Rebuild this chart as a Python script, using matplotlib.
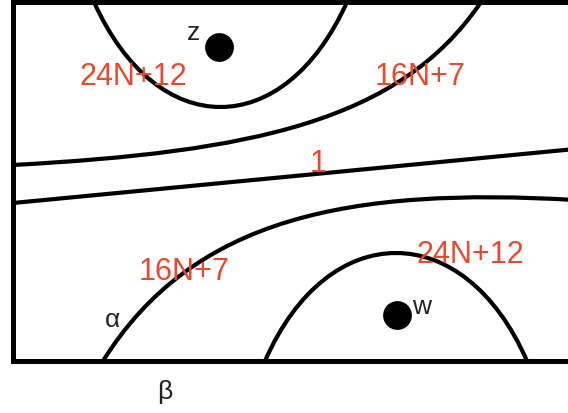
import matplotlib
matplotlib.use("Agg")
import matplotlib.pyplot as plt
from matplotlib.path import Path
from matplotlib.patches import PathPatch

plt.rcParams['font.family'] = ['Liberation Sans', 'DejaVu Sans']

# Diagram geometry (pixel coordinates of the reference picture)
box_left = 13
box_top = 3
box_bottom = 362
box_right = 575

# Curves as cubic Bezier control points: (x0,y0),(x1,y1),(x2,y2),(x3,y3)
curve_upper_u = [(94, 3), (157, 143), (284, 143), (347, 3)]
curve_upper_16 = [(13, 166), (250, 153), (400, 123), (481, 3)]
curve_one = [(13, 204), (200, 186), (400, 167), (575, 150)]
curve_lower_16 = [(103, 362), (193, 218), (350, 188), (575, 201)]
curve_lower_cap = [(265, 362), (328, 218), (464, 218), (527, 362)]
curves = [curve_upper_u, curve_upper_16, curve_one, curve_lower_16, curve_lower_cap]

# Red region labels
region_labels = ["24N+12", "16N+7", "1", "16N+7", "24N+12"]
region_x = [133, 420, 318, 184, 470]
region_y = [77, 77, 164, 272, 255]

# Points
point_names = ["z", "w"]
point_x = [219, 397]
point_y = [48, 316]
point_label_x = [194, 422]
point_label_y = [33, 307]

# Greek labels
greek_labels = ["\u03b1", "\u03b2"]
greek_x = [113, 165]
greek_y = [320, 392]

fig = plt.figure(figsize=(5.68, 4.14), dpi=100)
ax = fig.add_axes([0, 0, 1, 1])
ax.set_xlim(0, 568)
ax.set_ylim(414, 0)
ax.axis('off')

# Box
ax.plot([box_right, box_left, box_left, box_right],
        [box_top, box_top, box_bottom, box_bottom],
        color='black', lw=3.6, solid_joinstyle='miter', solid_capstyle='butt')

codes = [Path.MOVETO, Path.CURVE4, Path.CURVE4, Path.CURVE4]
for c in curves:
    ax.add_patch(PathPatch(Path(c, codes), facecolor='none', edgecolor='black',
                           lw=3.0, capstyle='butt'))

red = '#e84a31'
for t, x, y in zip(region_labels, region_x, region_y):
    ax.text(x, y, t, color=red, fontsize=22, ha='center', va='center', zorder=5)

ax.scatter(point_x, point_y, s=430, color='black', zorder=6, linewidths=0)
for t, x, y in zip(point_names, point_label_x, point_label_y):
    ax.text(x, y, t, color='#222222', fontsize=19, ha='center', va='center')

for t, x, y in zip(greek_labels, greek_x, greek_y):
    ax.text(x, y, t, color='#222222', fontsize=19, ha='center', va='center')

fig.savefig('out.png', dpi=100)
